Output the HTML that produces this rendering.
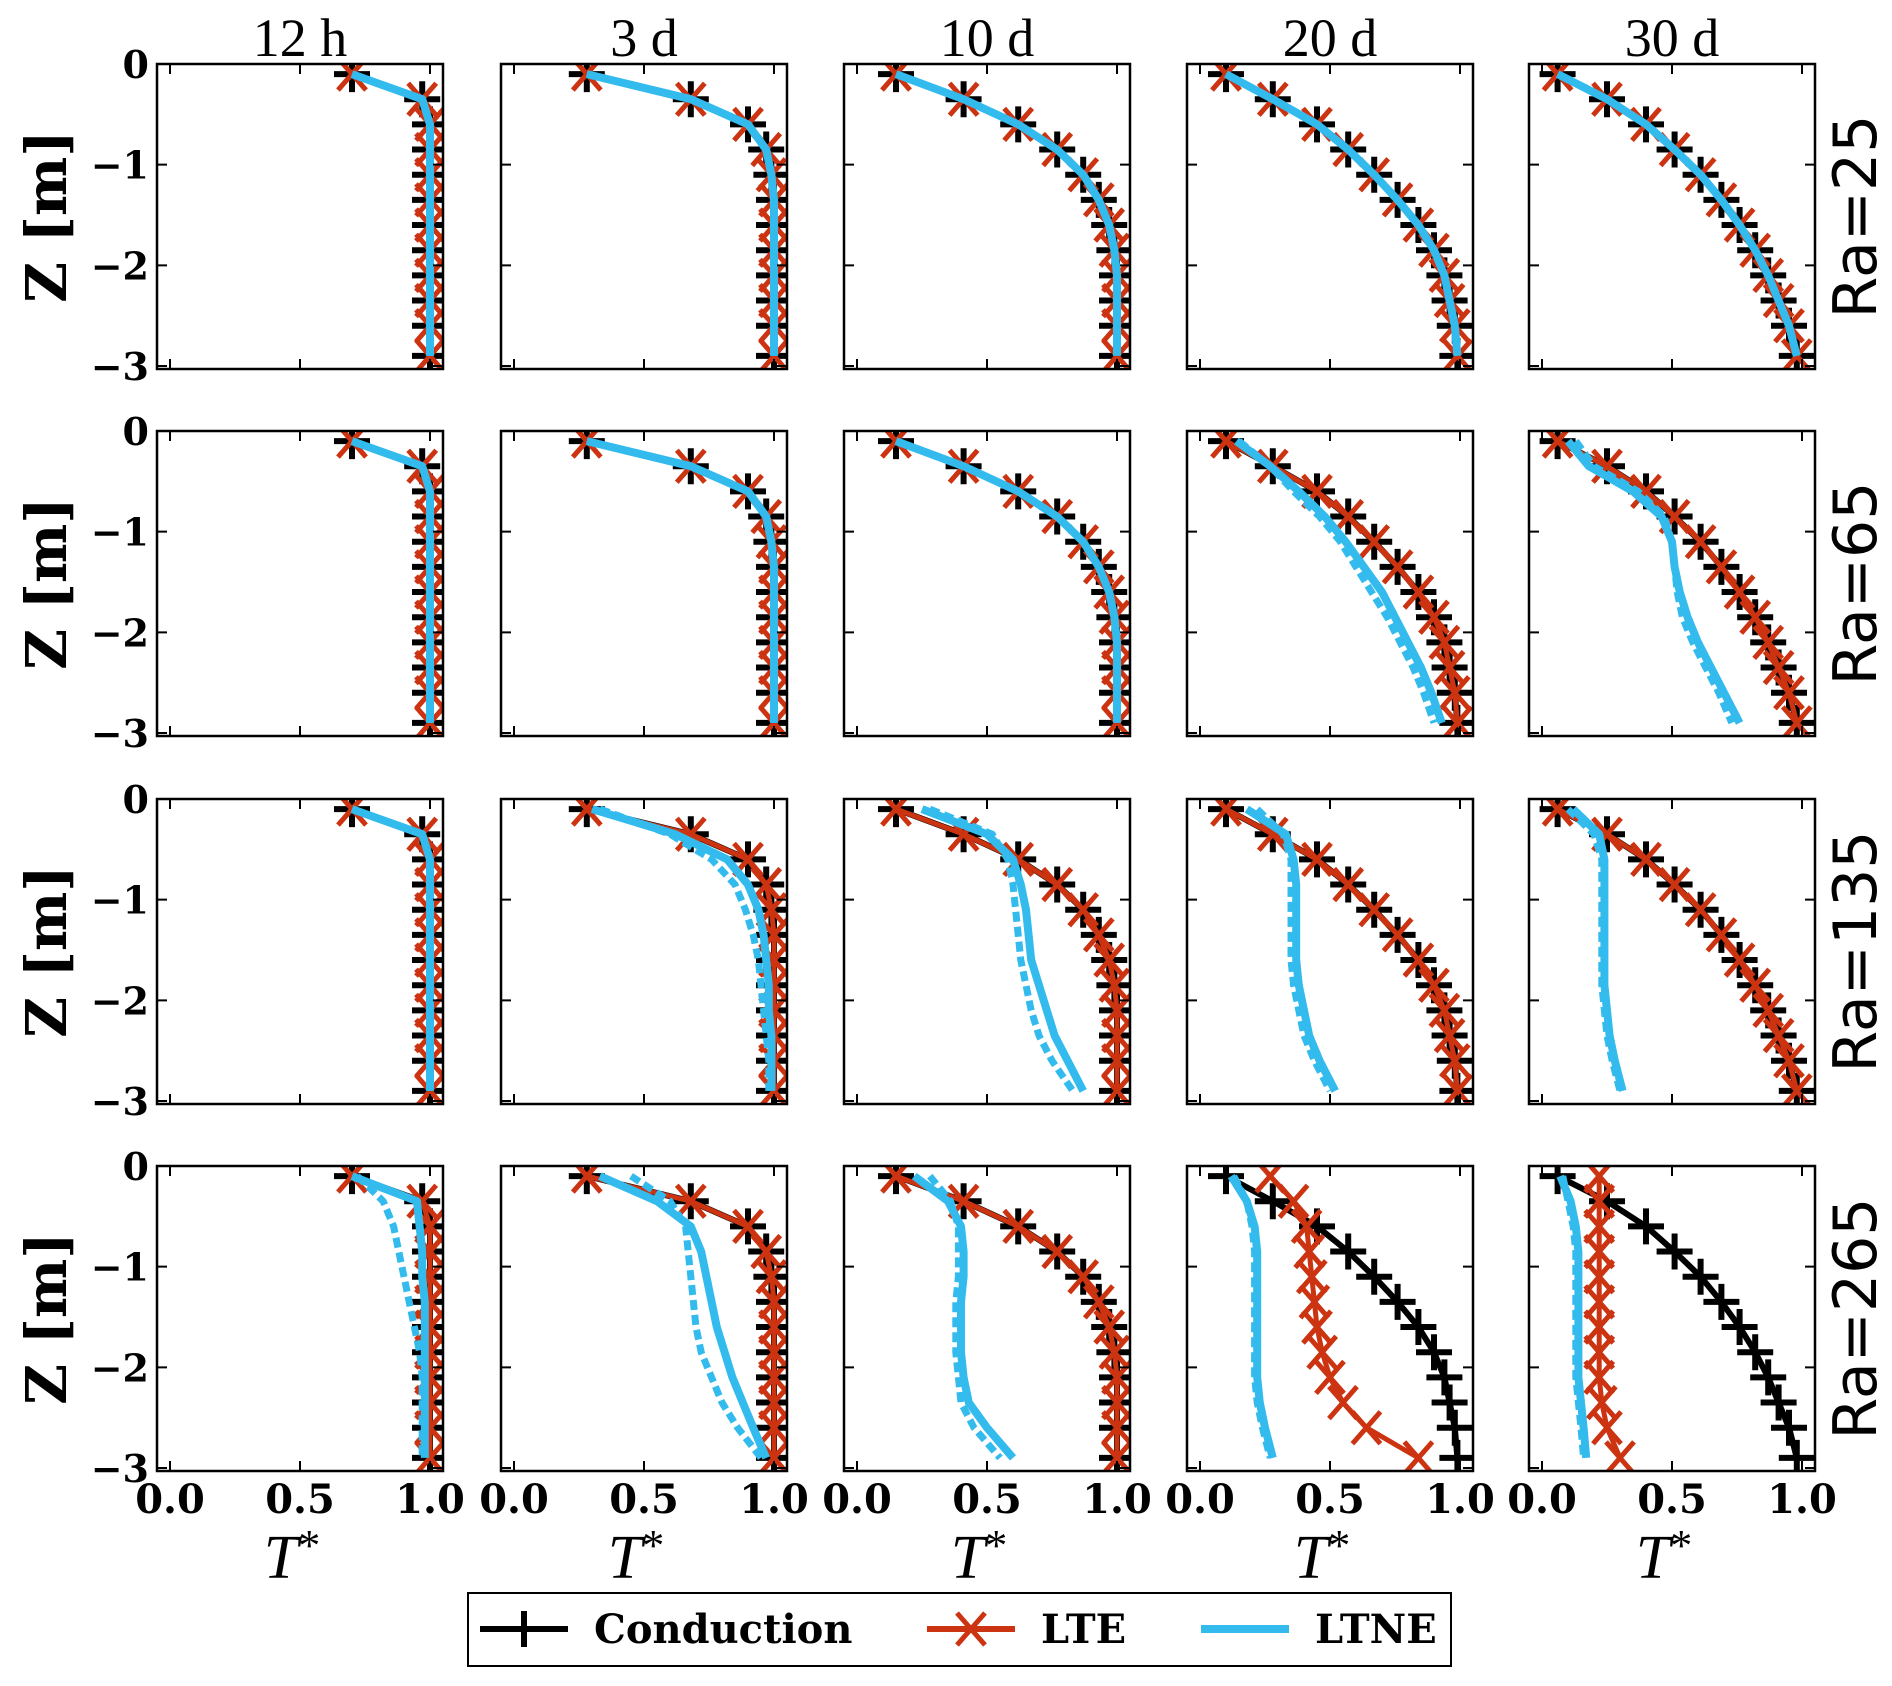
<!DOCTYPE html>
<html><head><meta charset="utf-8"><style>
html,body{margin:0;padding:0;background:#fff;}
svg{display:block;}
</style></head><body>
<svg id="fig" xmlns="http://www.w3.org/2000/svg" width="1892" height="1686" viewBox="0 0 1892 1686"></svg>
<script>
const timeLabels = ["12 h","3 d","10 d","20 d","30 d"];
const raLabels = ["Ra=25","Ra=65","Ra=135","Ra=265"];
const zDepth = [-0.1,-0.35,-0.6,-0.85,-1.1,-1.35,-1.6,-1.85,-2.1,-2.35,-2.6,-2.9];
const xTicks = [0,0.5,1];
const xTickLabels = ["0.0","0.5","1.0"];
const yTicks = [0,-1,-2,-3];
const yTickLabels = ["0","\u22121","\u22122","\u22123"];
// conduction profile per time
const cond12h = [.70,.97,1,1,1,1,1,1,1,1,1,1];
const cond3d  = [.28,.68,.90,.97,.99,1,1,1,1,1,1,1];
const cond10d = [.15,.41,.62,.77,.87,.93,.97,.99,1,1,1,1];
const cond20d = [.10,.28,.45,.57,.67,.76,.84,.90,.94,.96,.98,.99];
const cond30d = [.06,.25,.40,.51,.61,.69,.76,.82,.87,.91,.95,.98];
const condData = [cond12h,cond3d,cond10d,cond20d,cond30d];
// LTE overrides (null = same as conduction)
const lteRa265_20d = [.27,.36,.41,.42,.43,.44,.45,.47,.50,.55,.64,.84];
const lteRa265_30d = [.22,.22,.22,.22,.22,.22,.22,.22,.22,.23,.25,.30];
const lteData = [[null,null,null,null,null],[null,null,null,null,null],[null,null,null,null,null],[null,null,null,lteRa265_20d,lteRa265_30d]];
// LTNE solid / dashed (null = same as conduction)
const ltneSolid = [
 [null,null,null,null,null],
 [null,null,null,[.14,.27,.38,.48,.56,.63,.70,.75,.80,.85,.89,.93],[.10,.18,.35,.46,.50,.51,.53,.56,.60,.65,.70,.76]],
 [null,[.30,.62,.82,.90,.94,.96,.97,.98,.98,.99,.99,.99],[.25,.50,.60,.63,.65,.66,.67,.70,.73,.76,.81,.87],[.18,.33,.36,.37,.37,.37,.37,.38,.40,.42,.46,.52],[.12,.22,.24,.24,.24,.24,.24,.24,.25,.26,.28,.31]],
 [[.70,.95,.96,.97,.97,.98,.98,.98,.98,.98,.98,.98],[.33,.55,.68,.72,.74,.76,.78,.81,.84,.88,.92,.97],[.22,.35,.40,.41,.41,.40,.40,.40,.41,.43,.50,.60],[.12,.18,.21,.22,.22,.22,.22,.22,.22,.23,.25,.28],[.07,.11,.13,.14,.14,.14,.14,.14,.14,.15,.16,.17]]
];
const ltneDash = [
 [null,null,null,null,null],
 [null,null,null,[.15,.27,.36,.46,.54,.60,.66,.72,.77,.82,.86,.90],[.13,.20,.37,.47,.50,.51,.52,.54,.58,.63,.68,.73]],
 [null,[.33,.60,.76,.85,.89,.92,.94,.95,.96,.97,.98,.98],[.28,.52,.58,.60,.61,.62,.63,.65,.67,.70,.75,.83],[.22,.32,.35,.35,.35,.35,.35,.36,.38,.40,.44,.50],[.10,.20,.23,.23,.23,.23,.23,.23,.24,.25,.27,.30]],
 [[.72,.82,.86,.88,.90,.92,.94,.96,.97,.97,.97,.97],[.45,.60,.66,.67,.68,.69,.70,.72,.76,.80,.86,.95],[.28,.36,.39,.39,.39,.38,.38,.38,.39,.40,.45,.55],[.13,.18,.20,.21,.21,.21,.21,.21,.21,.22,.24,.27],[.08,.10,.12,.13,.13,.13,.13,.13,.13,.14,.15,.16]]
];

const NS="http://www.w3.org/2000/svg";
const svg=document.getElementById('fig');
const colLeft=[157,501,844,1187,1529], rowTop=[64,431,799,1166], PW=286, PH=305;
const X0=-0.05,X1=1.05,Y0=0,Y1=-3.03;
function mk(tag,attrs,parent){const e=document.createElementNS(NS,tag);for(const k in attrs)e.setAttribute(k,attrs[k]);(parent||svg).appendChild(e);return e;}
function xs(c,v){return colLeft[c]+(v-X0)/(X1-X0)*PW;}
function ys(r,v){return rowTop[r]+(v-Y0)/(Y1-Y0)*PH;}
function pts(r,c,arr){return arr.map((v,i)=>xs(c,v).toFixed(1)+","+ys(r,zDepth[i]).toFixed(1)).join(" ");}
const BLACK="#000",RED="#cc3311",BLUE="#33bbee";
const serif='"DejaVu Serif","Liberation Serif",serif';

for(let r=0;r<4;r++){
 for(let c=0;c<5;c++){
  const g=mk('g',{});
  
  
  const cp=mk('clipPath',{id:'cp'+r+c},g);
  mk('rect',{x:colLeft[c],y:rowTop[r],width:PW,height:PH},cp);
  const d=mk('g',{'clip-path':'url(#cp'+r+c+')'},g);
  const cond=condData[c];
  const lte=lteData[r][c]||cond;
  const sol=ltneSolid[r][c]||cond;
  const das=ltneDash[r][c]||cond;
  const cl=mk('polyline',{points:pts(r,c,cond),fill:'none',stroke:BLACK,'stroke-width':6},d);
  
  
  cond.forEach((v,i)=>{const x=xs(c,v),y=ys(r,zDepth[i]);
   const m=mk('path',{d:`M${x-18},${y}H${x+18}M${x},${y-18}V${y+18}`,stroke:BLACK,'stroke-width':6},d);
   
   });
  const ll=mk('polyline',{points:pts(r,c,lte),fill:'none',stroke:RED,'stroke-width':5},d);
  
  
  lte.forEach((v,i)=>{const x=xs(c,v),y=ys(r,zDepth[i]);
   const m=mk('path',{d:`M${x-14},${y-16}L${x+14},${y+16}M${x-14},${y+16}L${x+14},${y-16}`,stroke:RED,'stroke-width':5},d);
   
   });
  const dl=mk('polyline',{points:pts(r,c,das),fill:'none',stroke:BLUE,'stroke-width':7,'stroke-dasharray':'10,5'},d);
  
  
  const sl=mk('polyline',{points:pts(r,c,sol),fill:'none',stroke:BLUE,'stroke-width':8,'stroke-linejoin':'round'},d);
  
  
  const fr=mk('rect',{x:colLeft[c],y:rowTop[r],width:PW,height:PH,fill:'none',stroke:'#000','stroke-width':2.5},g);
  
  
  xTicks.forEach((t,i)=>{const x=xs(c,t);
   const tk=mk('path',{d:`M${x},${rowTop[r]}v10M${x},${rowTop[r]+PH}v-10`,stroke:'#000','stroke-width':2},g);
   
   
   if(r===3){const tl=mk('text',{x:x,y:rowTop[r]+PH+42,'text-anchor':'middle','font-family':serif,'font-weight':'bold','font-size':40},g);
    tl.textContent=xTickLabels[i];
    
    }});
  yTicks.forEach((t,i)=>{const y=ys(r,t);
   const tk=mk('path',{d:`M${colLeft[c]},${y}h10M${colLeft[c]+PW},${y}h-10`,stroke:'#000','stroke-width':2},g);
   
   
   if(c===0){const tl=mk('text',{x:colLeft[c]-8,y:y+14,'text-anchor':'end','font-family':serif,'font-weight':'bold','font-size':38},g);
    tl.textContent=yTickLabels[i];
    
    }});
 }
 const cy=rowTop[r]+PH/2;
 const zl=mk('text',{x:0,y:0,transform:`translate(66,${cy}) rotate(-90)`,'text-anchor':'middle','font-family':serif,'font-weight':'bold','font-size':56});
 zl.textContent='Z [m]';
 
 
 const rl=mk('text',{x:0,y:0,transform:`translate(1876,${cy}) rotate(-90)`,'text-anchor':'middle','font-family':'"DejaVu Sans","Liberation Sans",sans-serif','font-size':60});
 rl.textContent=raLabels[r];
 
 
}
for(let c=0;c<5;c++){
 const cx=colLeft[c]+PW/2;
 const t=mk('text',{x:cx,y:56,'text-anchor':'middle','font-family':'"Liberation Serif",serif','font-size':54});
 t.textContent=timeLabels[c];
 
 
 const xl=mk('text',{x:cx-8,y:1578,'text-anchor':'middle','font-family':'"Liberation Serif",serif','font-style':'italic','font-size':62});
 
 
 const t1=mk('tspan',{},xl); t1.textContent='T';
 const t2=mk('tspan',{dy:'-18','font-size':'44','font-style':'normal'},xl); t2.textContent='*';
}
// legend
const lg=mk('g',{});


mk('rect',{x:468,y:1593,width:983,height:73,fill:'#fff',stroke:'#000','stroke-width':2},lg);
const items=[["Conduction",BLACK,480],["LTE",RED,927],["LTNE",BLUE,1201]];
items.forEach(([lab,col,x0],i)=>{
 const e=mk('g',{},lg);
 
 
 const y=1629;
 mk('line',{x1:x0,y1:y,x2:x0+88,y2:y,stroke:col,'stroke-width':i===2?8:6},e);
 const mx=x0+44;
 if(i===0)mk('path',{d:`M${mx-18},${y}H${mx+18}M${mx},${y-18}V${y+18}`,stroke:col,'stroke-width':6},e);
 if(i===1)mk('path',{d:`M${mx-14},${y-16}L${mx+14},${y+16}M${mx-14},${y+16}L${mx+14},${y-16}`,stroke:col,'stroke-width':5},e);
 const t=mk('text',{x:x0+114,y:y+14,'font-family':serif,'font-weight':'bold','font-size':40},e);
 t.textContent=lab;
});
</script>
</body></html>
